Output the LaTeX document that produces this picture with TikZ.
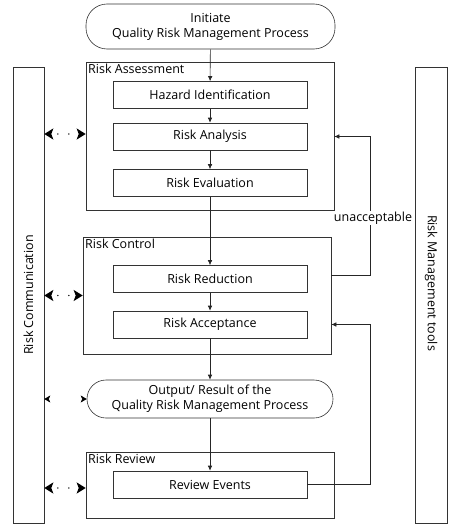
\documentclass[tikz,border=0pt]{standalone}
\usepackage{fontspec}
\setmainfont{Open Sans}
\usetikzlibrary{arrows.meta,calc}
\begin{document}
\begin{tikzpicture}[x=1pt,y=-1pt,
  every node/.style={font=\fontsize{12.5}{15}\selectfont, text=black},
  container/.style={draw=black!80, line width=0.6pt, minimum width=248pt, inner sep=0pt},
  stepbox/.style={draw=black!80, line width=0.6pt, minimum width=194pt, minimum height=27pt, inner sep=0pt},
  term/.style={draw=black!80, line width=0.6pt, rounded corners=19pt, align=center, inner sep=0pt},
  bar/.style={draw=black!80, line width=0.6pt, minimum height=456pt, inner sep=0pt},
  boxlabel/.style={anchor=north west, inner sep=1pt},
  flow/.style={draw=black!85, line width=0.6pt, -{Latex[length=5pt,width=4.5pt]}},
  comarrow/.style={line width=1.6pt, dash pattern=on 0pt off 11pt, dash phase=4pt, line cap=round, {Stealth[length=9pt,width=11pt,inset=2pt]}-{Stealth[length=9pt,width=11pt,inset=2pt]}},
  comarrowthin/.style={line width=0.6pt, dash pattern=on 0pt off 200pt, line cap=butt, {Stealth[length=6pt,width=7pt,inset=1.5pt]}-{Stealth[length=6pt,width=7pt,inset=1.5pt]}}
]
\useasboundingbox (0,0) rectangle (458,527);
% side bars
\node[bar, minimum width=31pt] (comm) at (28.5,295) {};
\node[rotate=90] (commlab) at (comm.center) {Risk Communication};
\node[bar, minimum width=32pt] (tools) at (431,295) {};
\node[rotate=-90] (toolslab) at (431,283) {Risk Management tools};
% start
\node[term, minimum width=249pt, minimum height=45pt, rounded corners=21pt] (start) at (210.5,26.5) {Initiate\\Quality Risk Management Process};
% risk assessment
\node[container, minimum height=148pt] (ra) at (210,136) {};
\node[boxlabel] (ralab) at (87,63) {Risk Assessment};
\node[stepbox] (hazard) at (210,95) {Hazard Identification};
\node[stepbox] (analysis) at (210,136.5) {Risk Analysis};
\node[stepbox] (evaluation) at (210,183) {Risk Evaluation};
% risk control
\node[container, minimum height=117pt] (rc) at (207,295.5) {};
\node[boxlabel] (rclab) at (84,238) {Risk Control};
\node[stepbox] (reduction) at (210,279) {Risk Reduction};
\node[stepbox] (acceptance) at (210,324.5) {Risk Acceptance};
% output
\node[term, minimum width=246pt, minimum height=38pt] (output) at (210,399) {Output/ Result of the\\Quality Risk Management Process};
% risk review
\node[container, minimum height=66pt] (rr) at (210,485) {};
\node[boxlabel] (rrlab) at (87,453) {Risk Review};
\node[stepbox] (review) at (210,484.5) {Review Events};
% main flow
\draw[flow] (start) -- (hazard);
\draw[flow] (hazard) -- (analysis);
\draw[flow] (analysis) -- (evaluation);
\draw[flow] (evaluation) -- (reduction);
\draw[flow] (reduction) -- (acceptance);
\draw[flow] (acceptance) -- (output);
\draw[flow] (output) -- (review);
% feedback
\coordinate (fbx) at (370,0);
\draw[flow] (rc.east |- 0,275) -| (fbx |- analysis) -- (ra.east |- analysis);
\node[fill=white, inner sep=1pt] (unacc) at (373,218) {unacceptable};
\draw[flow] (review.east) -| (fbx |- acceptance) -- (rc.east |- acceptance);
% communication arrows
\draw[comarrow] (comm.east |- 0,134) -- (ra.west |- 0,134);
\draw[comarrow] (comm.east |- rc.west) -- (rc.west);
\draw[comarrowthin] (comm.east |- output.west) -- (output.west);
\draw[comarrow] (comm.east |- 0,488) -- (rr.west |- 0,488);
\end{tikzpicture}
\end{document}
